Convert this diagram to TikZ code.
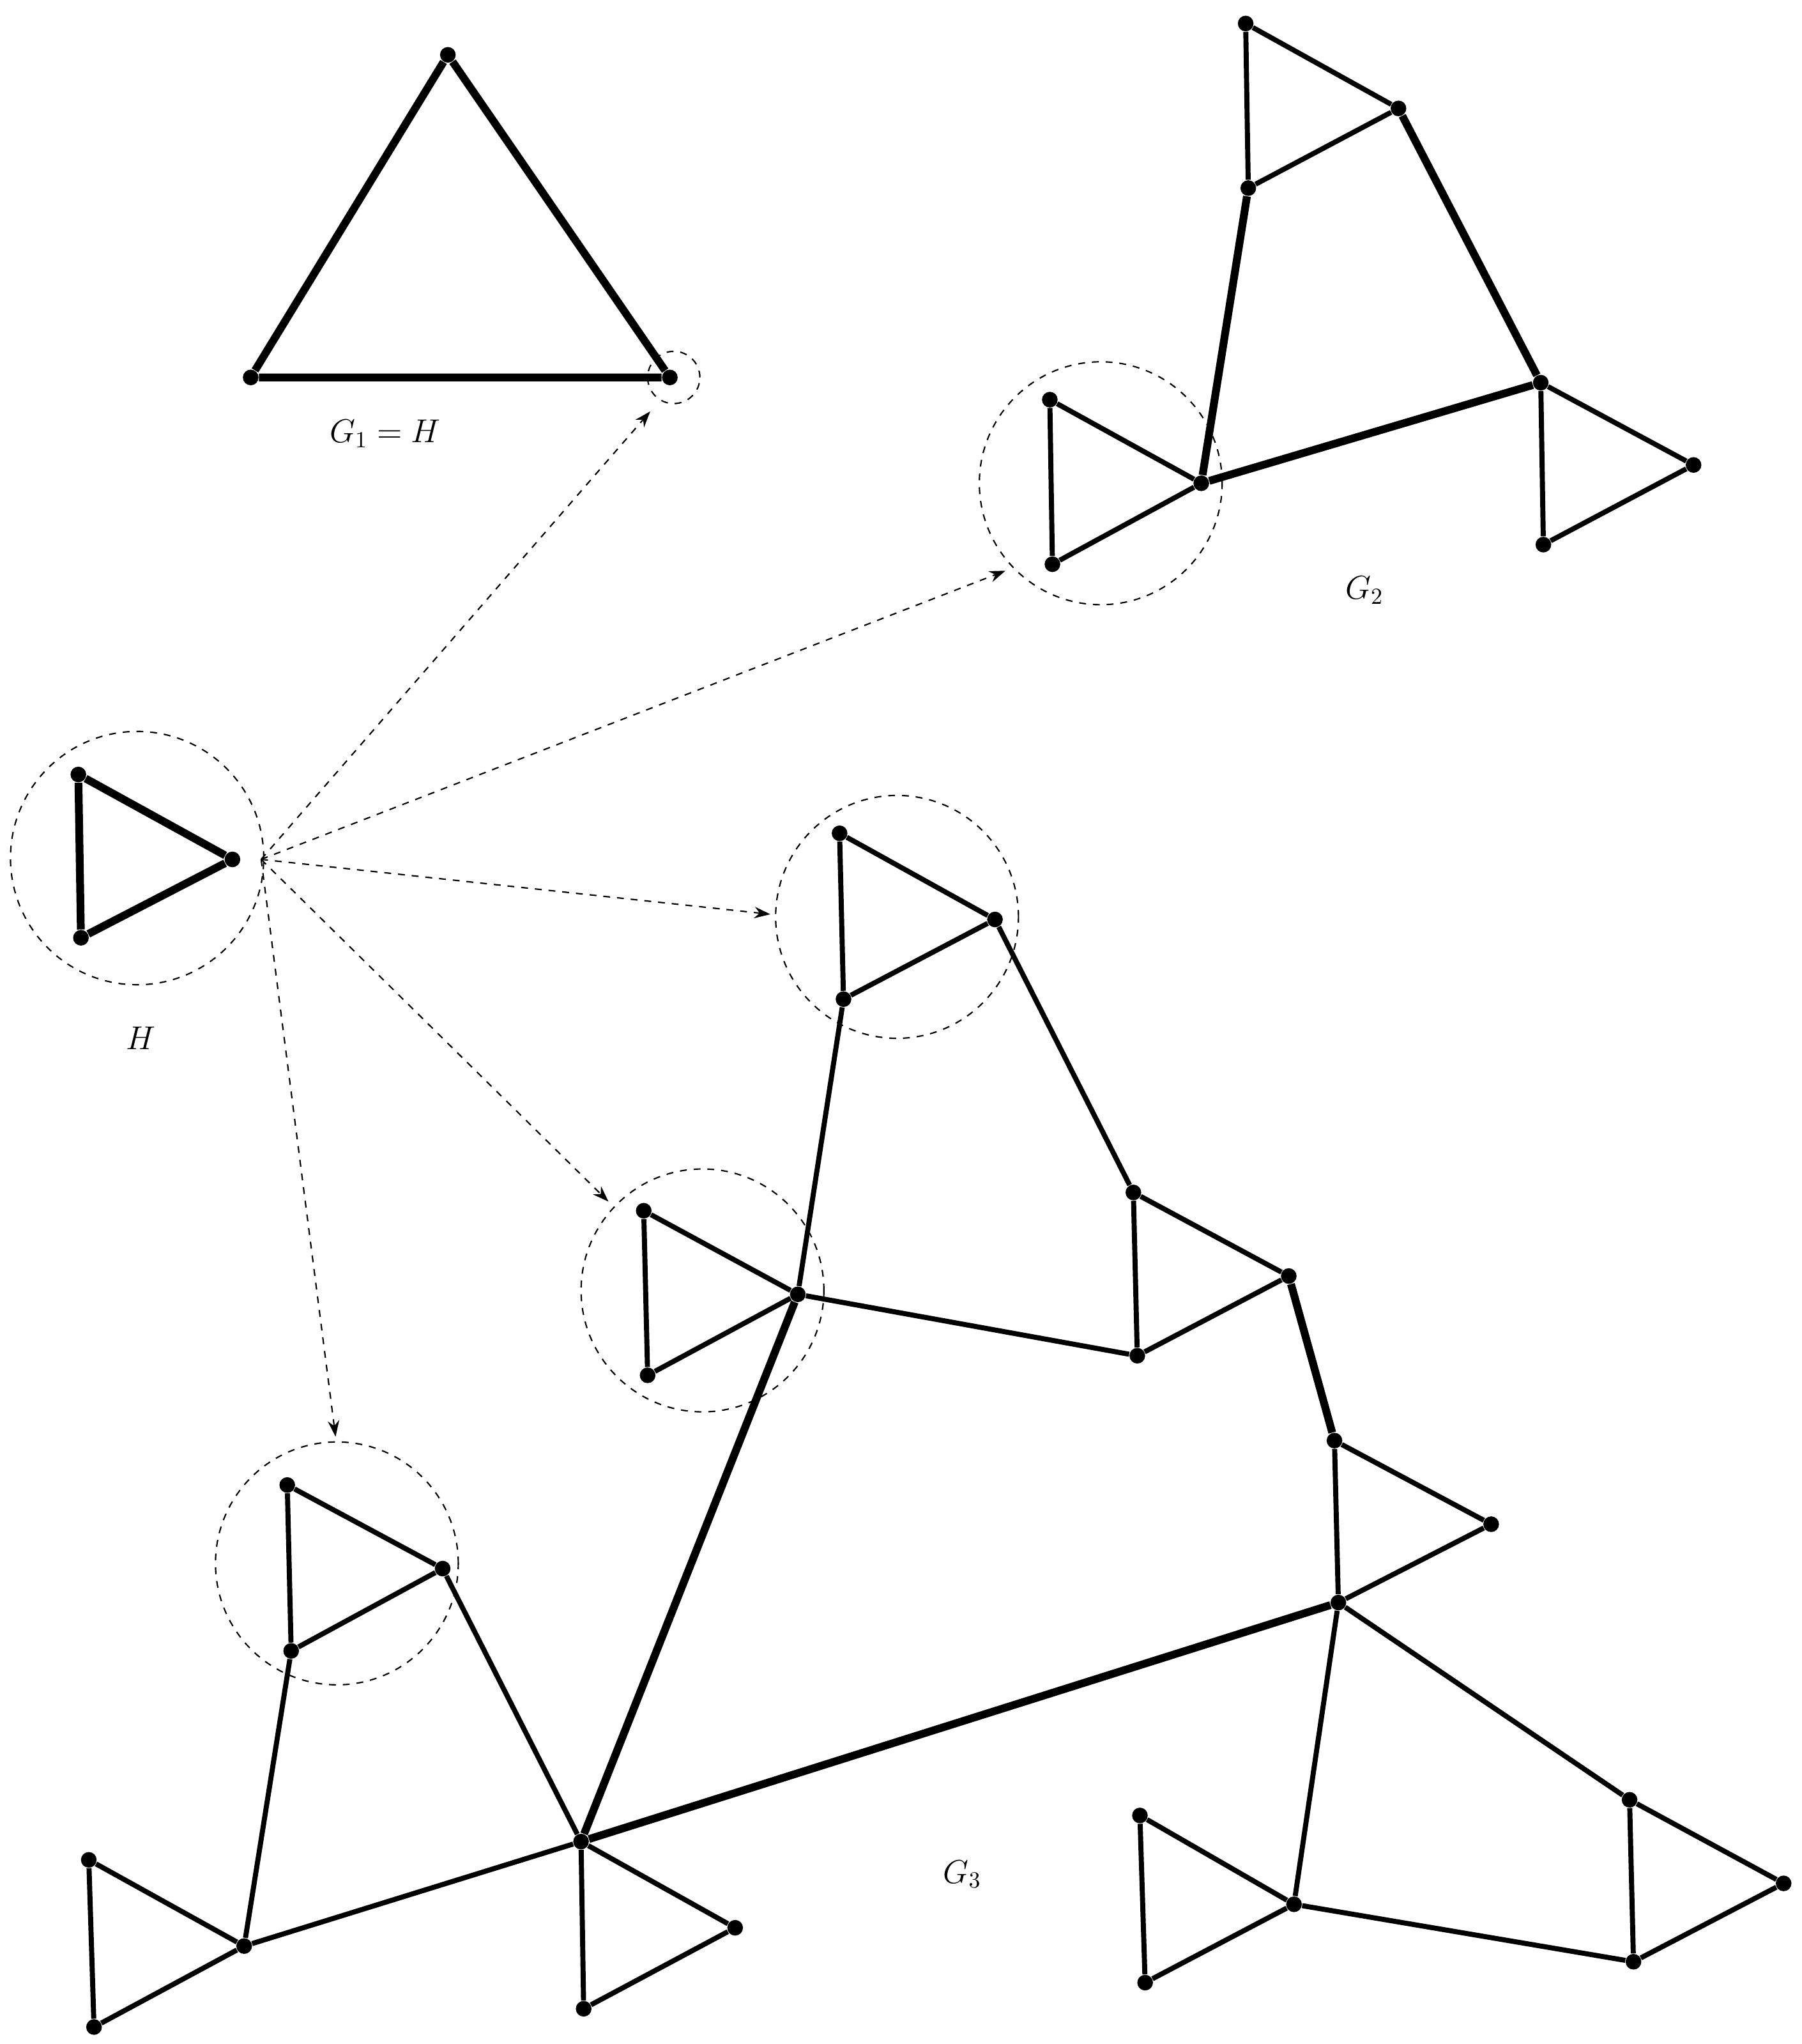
\documentclass[tikz,border=0pt]{standalone}
\usetikzlibrary{arrows.meta}
\begin{document}
\begin{tikzpicture}[x=0.02cm,y=-0.02cm,
  v/.style={circle,fill=black,inner sep=0pt,minimum size=0.24cm},
  e/.style={line width=2.2pt},
  te/.style={line width=3.4pt},
  dc/.style={draw,dashed,circle,line width=0.6pt},
  ar/.style={dashed,line width=0.6pt,-{Stealth[length=7pt,width=5pt]}},
  lab/.style={font=\Large}]
\useasboundingbox (0,0) rectangle (1380,1565);
% G1
\node[v] (g1a) at (343,42) {}; \node[v] (g1b) at (192,289) {}; \node[v] (g1c) at (513,289) {};
\draw[te] (g1a)--(g1b)--(g1c)--(g1a);
\node[dc,minimum size=40\pgflinewidth*0+0.8cm] (c1) at (516,289) {};
\node[lab] at (295,332) {$G_1 = H$};
% G2
\node[v] (a) at (954,18) {}; \node[v] (b) at (1071,83) {}; \node[v] (c) at (956,144) {};
\node[v] (d) at (1180,293) {}; \node[v] (ee) at (920,370) {}; \node[v] (f) at (804,306) {};
\node[v] (g) at (806,432) {}; \node[v] (h) at (1297,356) {}; \node[v] (i) at (1182,417) {};
\draw[e] (a)--(b)--(c)--(a) (d)--(h)--(i)--(d) (f)--(ee)--(g)--(f);
\draw[te] (b)--(d)--(ee)--(c);
\node[dc,minimum size=3.72cm] (c2) at (843,370) {};
\node[lab] at (1045,452) {$G_2$};
% H
\node[v] (h1) at (60,593) {}; \node[v] (h2) at (178,658) {}; \node[v] (h3) at (62,718) {};
\draw[te] (h1)--(h2)--(h3)--(h1);
\node[dc,minimum size=3.88cm] (ch) at (105,657) {};
\node[lab] at (108,795) {$H$};
\coordinate (src) at (200,658);
% G3
\node[v] (p1) at (643,638) {}; \node[v] (p2) at (762,704) {}; \node[v] (p3) at (646,765) {};
\node[v] (q1) at (493,927) {}; \node[v] (q2) at (611,991) {}; \node[v] (q3) at (496,1053) {};
\node[v] (r1) at (868,913) {}; \node[v] (r2) at (987,977) {}; \node[v] (r3) at (871,1038) {};
\node[v] (s1) at (1022,1103) {}; \node[v] (s2) at (1142,1167) {}; \node[v] (s3) at (1025,1227) {};
\node[v] (t1) at (1248,1378) {}; \node[v] (t2) at (1366,1442) {}; \node[v] (t3) at (1251,1502) {};
\node[v] (u1) at (873,1390) {}; \node[v] (u2) at (991,1458) {}; \node[v] (u3) at (877,1518) {};
\node[v] (v1) at (220,1137) {}; \node[v] (v2) at (339,1201) {}; \node[v] (v3) at (223,1264) {};
\node[v] (w1) at (68,1424) {}; \node[v] (w2) at (187,1490) {}; \node[v] (w3) at (72,1552) {};
\node[v] (x1) at (445,1410) {}; \node[v] (x2) at (563,1476) {}; \node[v] (x3) at (447,1538) {};
\draw[e] (p1)--(p2)--(p3)--(p1) (q1)--(q2)--(q3)--(q1) (r1)--(r2)--(r3)--(r1)
 (s1)--(s2)--(s3)--(s1) (t1)--(t2)--(t3)--(t1) (u1)--(u2)--(u3)--(u1)
 (v1)--(v2)--(v3)--(v1) (w1)--(w2)--(w3)--(w1) (x1)--(x2)--(x3)--(x1);
\draw[e] (p3)--(q2) (p2)--(r1) (q2)--(r3) (s3)--(t1) (s3)--(u2) (u2)--(t3)
 (v2)--(x1) (v3)--(w2) (w2)--(x1);
\draw[te] (r2)--(s1) (q2)--(x1) (x1)--(s3);
\node[dc,minimum size=3.72cm] (cp) at (687,702) {};
\node[dc,minimum size=3.72cm] (cq) at (538,988) {};
\node[dc,minimum size=3.72cm] (cv) at (258,1197) {};
\node[lab] at (737,1435) {$G_3$};
% arrows
\draw[ar] (src)--(498,315);
\draw[ar] (src)--(770,437);
\draw[ar] (src)--(590,700);
\draw[ar] (src)--(466,920);
\draw[ar] (src)--(257,1100);
\end{tikzpicture}
\end{document}
